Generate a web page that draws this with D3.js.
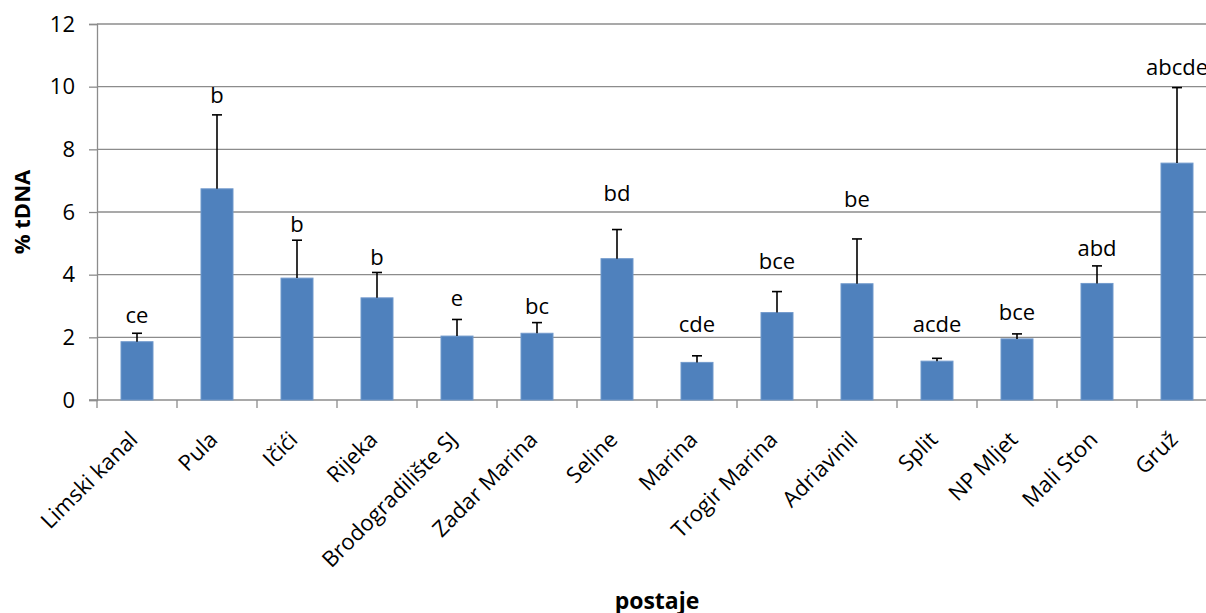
<!DOCTYPE html>
<html lang="hr">
<head>
    <meta charset="UTF-8">
    <script src="https://d3js.org/d3.v7.min.js"></script>
    <style>
        body {margin: 0; background: #ffffff}
        svg {display: block}
        text {font-family: "Open Sans", sans-serif; fill: #000}
    </style>
</head>
<body>
<svg class="chart"></svg>
<script type="text/javascript">
    // postaje (stations) and measured % tDNA
    const stations = ["Limski kanal", "Pula", "Ičići", "Rijeka", "Brodogradilište SJ", "Zadar Marina",
        "Seline", "Marina", "Trogir Marina", "Adriavinil", "Split", "NP Mljet", "Mali Ston", "Gruž"];
    const means = [1.86, 6.74, 3.89, 3.26, 2.04, 2.13, 4.51, 1.20, 2.79, 3.71, 1.24, 1.95, 3.72, 7.56];
    const errors = [0.27, 2.36, 1.21, 0.81, 0.53, 0.34, 0.93, 0.21, 0.67, 1.43, 0.09, 0.16, 0.56, 2.41];
    const letters = ["ce", "b", "b", "b", "e", "bc", "bd", "cde", "bce", "be", "acde", "bce", "abd", "abcde"];
    // height (in % tDNA units) where each letter group sits
    const letterAt = [2.46, 9.47, 5.37, 4.31, 3.01, 2.73, 6.35, 2.17, 4.18, 6.17, 2.17, 2.55, 4.59, 10.37];
    const yTicks = [0, 2, 4, 6, 8, 10, 12];

    const width = 1206, height = 613;
    const plotLeft = 97, plotRight = 1217, plotTop = 24, plotBottom = 400;

    const svg = d3.select(".chart").attr("width", width).attr("height", height);

    const x = d3.scaleBand().domain(stations).range([plotLeft, plotRight]).paddingInner(0.6).paddingOuter(0.3);
    const y = d3.scaleLinear().domain([0, 12]).range([plotBottom, plotTop]);
    const step = x.step();

    // grid
    svg.append("g").selectAll("line").data(yTicks.filter(d => d > 0)).enter().append("line")
        .attr("x1", plotLeft).attr("x2", plotRight)
        .attr("y1", d => y(d)).attr("y2", d => y(d))
        .attr("stroke", "#8c8c8c").attr("stroke-width", 1.3);

    // y axis
    const yAxis = svg.append("g").attr("transform", "translate(" + plotLeft + ",0)")
        .call(d3.axisLeft(y).tickValues(yTicks).tickSize(8).tickPadding(14));
    yAxis.select(".domain").attr("stroke", "#8c8c8c").attr("stroke-width", 1.3);
    yAxis.selectAll(".tick line").attr("stroke", "#8c8c8c").attr("stroke-width", 1.3);
    yAxis.selectAll(".tick text").style("font-family", "Open Sans").style("font-size", "22px").attr("fill", "#000");

    // x axis line and ticks between categories
    svg.append("line").attr("x1", plotLeft - 8).attr("x2", plotRight).attr("y1", plotBottom).attr("y2", plotBottom)
        .attr("stroke", "#8c8c8c").attr("stroke-width", 1.3);
    svg.append("g").selectAll("line").data(d3.range(stations.length + 1)).enter().append("line")
        .attr("x1", i => plotLeft + i * step).attr("x2", i => plotLeft + i * step)
        .attr("y1", plotBottom).attr("y2", plotBottom + 8)
        .attr("stroke", "#8c8c8c").attr("stroke-width", 1.3);

    // bars
    svg.append("g").selectAll("rect").data(stations).enter().append("rect")
        .attr("x", d => x(d))
        .attr("width", x.bandwidth())
        .attr("y", (d, i) => y(means[i]))
        .attr("height", (d, i) => y(0) - y(means[i]))
        .attr("fill", "#4f81bd")
        .attr("stroke", "#7199cc").attr("stroke-width", 1);

    // error bars (upper only)
    const eb = svg.append("g").selectAll("g").data(stations).enter().append("g");
    eb.append("line")
        .attr("x1", d => x(d) + x.bandwidth() / 2).attr("x2", d => x(d) + x.bandwidth() / 2)
        .attr("y1", (d, i) => y(means[i])).attr("y2", (d, i) => y(means[i] + errors[i]))
        .attr("stroke", "#000").attr("stroke-width", 1.6);
    eb.append("line")
        .attr("x1", d => x(d) + x.bandwidth() / 2 - 5).attr("x2", d => x(d) + x.bandwidth() / 2 + 5)
        .attr("y1", (d, i) => y(means[i] + errors[i])).attr("y2", (d, i) => y(means[i] + errors[i]))
        .attr("stroke", "#000").attr("stroke-width", 1.6);

    // significance letters
    svg.append("g").selectAll("text").data(stations).enter().append("text")
        .attr("x", d => x(d) + x.bandwidth() / 2)
        .attr("y", (d, i) => y(letterAt[i]))
        .attr("text-anchor", "middle")
        .style("font-size", "22px")
        .text((d, i) => letters[i]);

    // category labels
    svg.append("g").selectAll("text").data(stations).enter().append("text")
        .attr("transform", d => "translate(" + (x(d) + x.bandwidth() / 2 + 2) + "," + (plotBottom + 41) + ") rotate(-45)")
        .attr("text-anchor", "end")
        .style("font-size", "22px")
        .text(d => d);

    // axis titles
    svg.append("text")
        .attr("transform", "translate(30," + ((plotTop + plotBottom) / 2) + ") rotate(-90)")
        .attr("text-anchor", "middle")
        .style("font-size", "22px").style("font-weight", "bold")
        .text("% tDNA");

    svg.append("text")
        .attr("x", 657).attr("y", 609)
        .attr("text-anchor", "middle")
        .style("font-size", "23px").style("font-weight", "bold")
        .text("postaje");
</script>
</body>
</html>
